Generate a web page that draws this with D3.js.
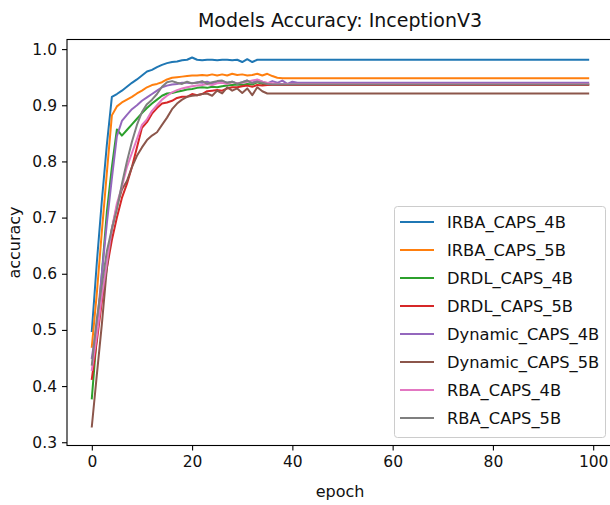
<!DOCTYPE html>
<html><head><meta charset="utf-8">
<script src="https://cdn.jsdelivr.net/npm/d3@7"></script>
<style>
html,body{margin:0;padding:0;background:#fff;}
svg{display:block;font-family:"DejaVu Sans",sans-serif;}
</style></head>
<body><svg id="c" width="610" height="505"></svg>
<script>
const title = "Models Accuracy: InceptionV3";
const xLabel = "epoch";
const yLabel = "accuracy";
const xTicks = [0, 20, 40, 60, 80, 100];
const yTicks = [0.3, 0.4, 0.5, 0.6, 0.7, 0.8, 0.9, 1.0];
const seriesNames = ["IRBA_CAPS_4B","IRBA_CAPS_5B","DRDL_CAPS_4B","DRDL_CAPS_5B","Dynamic_CAPS_4B","Dynamic_CAPS_5B","RBA_CAPS_4B","RBA_CAPS_5B"];
const seriesColors = ["#1f77b4","#ff7f0e","#2ca02c","#d62728","#9467bd","#8c564b","#e377c2","#7f7f7f"];

const irba4 = [
.498,.620,.730,.830,.915,.920,.926,.933,.940,.946,
.953,.960,.963,.968,.972,.975,.977,.978,.980,.981,
.985,.981,.980,.981,.981,.980,.981,.981,.980,.981,
.977,.982,.977,.981,.981,.981,.981,.981,.981,.981,
.981,.981,.981,.981,.981,.981,.981,.981,.981,.981,
.981,.981,.981,.981,.981,.981,.981,.981,.981,.981,
.981,.981,.981,.981,.981,.981,.981,.981,.981,.981,
.981,.981,.981,.981,.981,.981,.981,.981,.981,.981,
.981,.981,.981,.981,.981,.981,.981,.981,.981,.981,
.981,.981,.981,.981,.981,.981,.981,.981,.981,.981];
const irba5 = [
.470,.565,.675,.780,.882,.898,.905,.910,.915,.921,
.926,.932,.936,.938,.941,.946,.949,.950,.951,.952,
.953,.953,.954,.953,.955,.953,.955,.953,.956,.954,
.955,.953,.954,.956,.953,.956,.952,.949,.948,.948,
.948,.948,.948,.948,.948,.948,.948,.948,.948,.948,
.948,.948,.948,.948,.948,.948,.948,.948,.948,.948,
.948,.948,.948,.948,.948,.948,.948,.948,.948,.948,
.948,.948,.948,.948,.948,.948,.948,.948,.948,.948,
.948,.948,.948,.948,.948,.948,.948,.948,.948,.948,
.948,.948,.948,.948,.948,.948,.948,.948,.948,.948];
const drdl4 = [
.378,.490,.600,.710,.790,.857,.846,.856,.866,.876,
.886,.895,.903,.910,.917,.921,.922,.924,.926,.928,
.929,.931,.932,.931,.933,.932,.934,.935,.936,.937,
.936,.938,.937,.941,.938,.937,.937,.937,.937,.937,
.937,.937,.937,.937,.937,.937,.937,.937,.937,.937,
.937,.937,.937,.937,.937,.937,.937,.937,.937,.937,
.937,.937,.937,.937,.937,.937,.937,.937,.937,.937,
.937,.937,.937,.937,.937,.937,.937,.937,.937,.937,
.937,.937,.937,.937,.937,.937,.937,.937,.937,.937,
.937,.937,.937,.937,.937,.937,.937,.937,.937,.937];
const drdl5 = [
.413,.480,.550,.610,.660,.700,.735,.760,.790,.825,
.860,.870,.885,.895,.903,.905,.908,.913,.915,.915,
.920,.918,.920,.925,.926,.927,.926,.930,.932,.932,
.934,.935,.933,.936,.935,.936,.936,.936,.936,.936,
.936,.936,.936,.936,.936,.936,.936,.936,.936,.936,
.936,.936,.936,.936,.936,.936,.936,.936,.936,.936,
.936,.936,.936,.936,.936,.936,.936,.936,.936,.936,
.936,.936,.936,.936,.936,.936,.936,.936,.936,.936,
.936,.936,.936,.936,.936,.936,.936,.936,.936,.936,
.936,.936,.936,.936,.936,.936,.936,.936,.936,.936];
const dyn4 = [
.450,.510,.600,.690,.770,.845,.872,.883,.893,.900,
.908,.914,.920,.926,.932,.935,.937,.938,.940,.940,
.939,.941,.940,.942,.939,.941,.943,.940,.942,.939,
.941,.944,.940,.945,.942,.939,.943,.940,.944,.938,
.942,.940,.940,.940,.940,.940,.940,.940,.940,.940,
.940,.940,.940,.940,.940,.940,.940,.940,.940,.940,
.940,.940,.940,.940,.940,.940,.940,.940,.940,.940,
.940,.940,.940,.940,.940,.940,.940,.940,.940,.940,
.940,.940,.940,.940,.940,.940,.940,.940,.940,.940,
.940,.940,.940,.940,.940,.940,.940,.940,.940,.940];
const dyn5 = [
.328,.420,.510,.610,.680,.720,.750,.765,.790,.810,
.825,.838,.846,.852,.865,.878,.893,.903,.910,.915,
.917,.918,.920,.921,.917,.926,.921,.932,.926,.930,
.922,.930,.918,.932,.925,.921,.921,.921,.921,.921,
.921,.921,.921,.921,.921,.921,.921,.921,.921,.921,
.921,.921,.921,.921,.921,.921,.921,.921,.921,.921,
.921,.921,.921,.921,.921,.921,.921,.921,.921,.921,
.921,.921,.921,.921,.921,.921,.921,.921,.921,.921,
.921,.921,.921,.921,.921,.921,.921,.921,.921,.921,
.921,.921,.921,.921,.921,.921,.921,.921,.921,.921];
const rba4 = [
.429,.490,.560,.620,.680,.725,.755,.790,.815,.840,
.865,.875,.890,.900,.910,.917,.923,.927,.930,.932,
.934,.935,.936,.938,.936,.939,.940,.938,.941,.939,
.940,.942,.944,.946,.942,.940,.939,.938,.938,.938,
.938,.938,.938,.938,.938,.938,.938,.938,.938,.938,
.938,.938,.938,.938,.938,.938,.938,.938,.938,.938,
.938,.938,.938,.938,.938,.938,.938,.938,.938,.938,
.938,.938,.938,.938,.938,.938,.938,.938,.938,.938,
.938,.938,.938,.938,.938,.938,.938,.938,.938,.938,
.938,.938,.938,.938,.938,.938,.938,.938,.938,.938];
const rba5 = [
.438,.520,.580,.640,.680,.715,.760,.800,.835,.865,
.888,.902,.910,.920,.933,.941,.943,.940,.938,.942,
.939,.940,.943,.938,.941,.943,.944,.940,.942,.938,
.941,.944,.939,.942,.940,.938,.937,.937,.937,.937,
.937,.937,.937,.937,.937,.937,.937,.937,.937,.937,
.937,.937,.937,.937,.937,.937,.937,.937,.937,.937,
.937,.937,.937,.937,.937,.937,.937,.937,.937,.937,
.937,.937,.937,.937,.937,.937,.937,.937,.937,.937,
.937,.937,.937,.937,.937,.937,.937,.937,.937,.937,
.937,.937,.937,.937,.937,.937,.937,.937,.937,.937];

const seriesValues = [irba4, irba5, drdl4, drdl5, dyn4, dyn5, rba4, rba5];

const svg = d3.select("#c");
const L = 67, R = 613, T = 39.5, B = 445.5;
const x = d3.scaleLinear().domain([-4.95, 103.95]).range([L, R]);
const y = d3.scaleLinear().domain([0.2942, 1.0171]).range([B, T]);

svg.append("defs").append("clipPath").attr("id","clip")
  .append("rect").attr("x",L).attr("y",T).attr("width",R-L).attr("height",B-T);

const line = d3.line().x((d,i)=>x(i)).y(d=>y(d));
const g = svg.append("g").attr("clip-path","url(#clip)");
seriesValues.forEach((vals,k)=>{
  g.append("path").datum(vals).attr("d",line)
    .attr("fill","none").attr("stroke",seriesColors[k])
    .attr("stroke-width",2).attr("stroke-linejoin","round").attr("stroke-linecap","square");
});

// axes
const xAxis = d3.axisBottom(x).tickValues(xTicks).tickSize(5).tickPadding(5).tickFormat(d3.format("d"));
const yAxis = d3.axisLeft(y).tickValues(yTicks).tickSize(5).tickPadding(5).tickFormat(d3.format(".1f"));
const gx = svg.append("g").attr("transform",`translate(0,${B})`).call(xAxis);
const gy = svg.append("g").attr("transform",`translate(${L},0)`).call(yAxis);
[gx,gy].forEach(a=>{
  a.select(".domain").remove();
  a.selectAll(".tick line").attr("stroke","#000").attr("stroke-width",1.1);
  a.selectAll(".tick text").attr("fill","#111").style("font-size","15.5px").style("font-family","DejaVu Sans");
});
// frame
svg.append("rect").attr("x",L).attr("y",T).attr("width",R-L).attr("height",B-T)
  .attr("fill","none").attr("stroke","#000").attr("stroke-width",1.1);

svg.append("text").attr("x",(L+R)/2).attr("y",27).attr("text-anchor","middle")
  .style("font-size","19px").attr("fill","#111").text(title);
svg.append("text").attr("x",(L+R)/2).attr("y",497).attr("text-anchor","middle")
  .style("font-size","16px").attr("fill","#111").text(xLabel);
svg.append("text").attr("transform",`translate(20,${(T+B)/2}) rotate(-90)`).attr("text-anchor","middle")
  .style("font-size","16px").attr("fill","#111").text(yLabel);

// legend
const lg = svg.append("g");
lg.append("rect").attr("x",394.5).attr("y",206.5).attr("width",211).attr("height",231).attr("rx",3)
  .attr("fill","#fff").attr("fill-opacity",0.8).attr("stroke","#ccc").attr("stroke-width",1);
seriesNames.forEach((n,k)=>{
  const yy = 222 + k*28;
  lg.append("line").attr("x1",400).attr("x2",434).attr("y1",yy).attr("y2",yy)
    .attr("stroke",seriesColors[k]).attr("stroke-width",2);
  lg.append("text").attr("x",447).attr("y",yy).attr("dy","0.36em")
    .style("font-size","16.3px").attr("fill","#111").text(n);
});
</script></body></html>
